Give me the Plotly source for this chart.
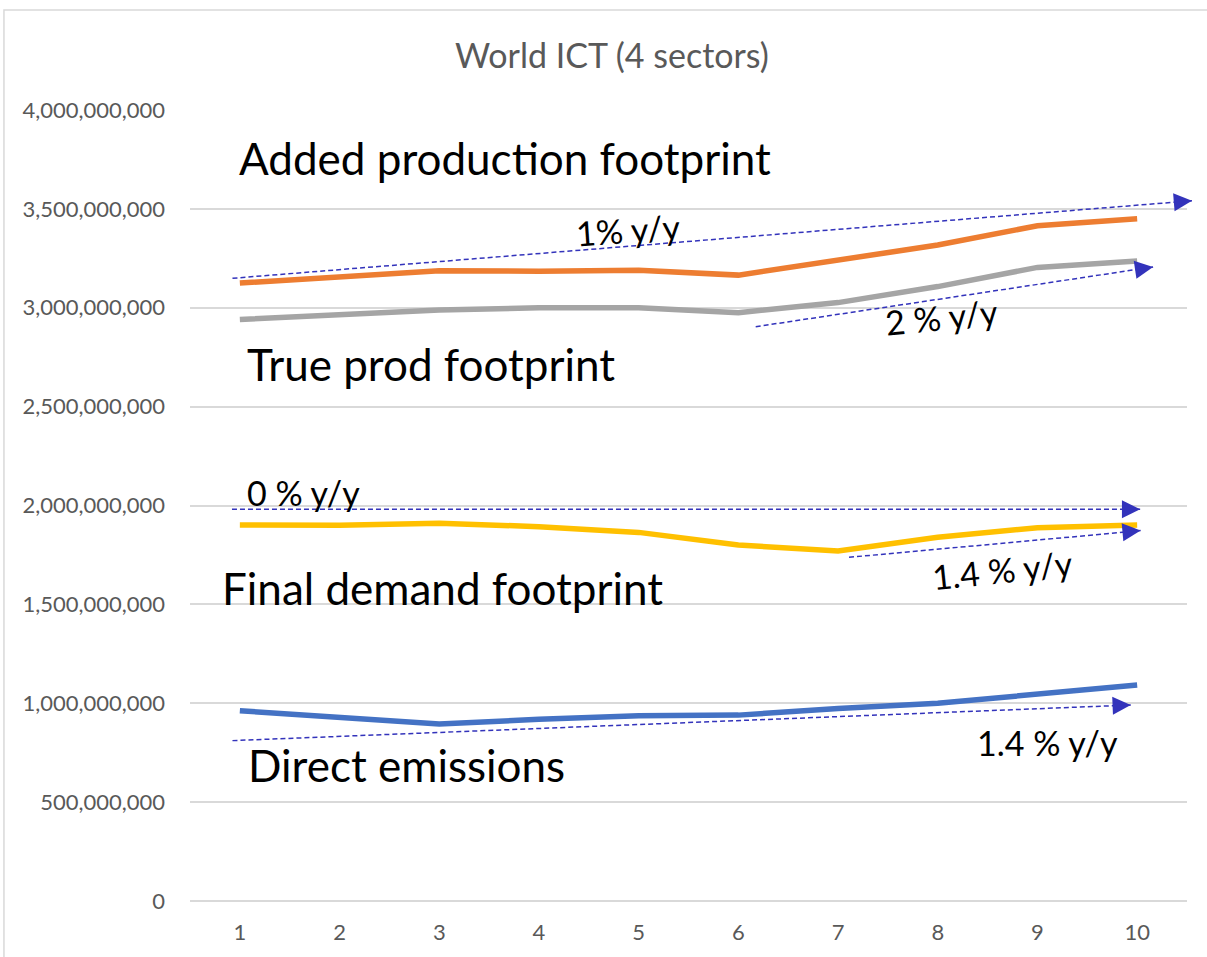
import math
import plotly.graph_objects as go

years = [1, 2, 3, 4, 5, 6, 7, 8, 9, 10]

added_production = [3.125e9, 3.153e9, 3.187e9, 3.185e9, 3.19e9, 3.165e9, 3.24e9, 3.317e9, 3.415e9, 3.45e9]
true_production = [2.941e9, 2.963e9, 2.989e9, 3.0e9, 3.0e9, 2.975e9, 3.026e9, 3.107e9, 3.204e9, 3.236e9]
final_demand = [1.901e9, 1.9e9, 1.91e9, 1.893e9, 1.864e9, 1.8e9, 1.77e9, 1.839e9, 1.888e9, 1.901e9]
direct_emissions = [0.962e9, 0.932e9, 0.895e9, 0.919e9, 0.937e9, 0.94e9, 0.974e9, 1.0e9, 1.047e9, 1.092e9]

y_ticks = [0, 5e8, 1e9, 1.5e9, 2e9, 2.5e9, 3e9, 3.5e9, 4e9]
y_tick_text = ["0", "500,000,000", "1,000,000,000", "1,500,000,000", "2,000,000,000",
               "2,500,000,000", "3,000,000,000", "3,500,000,000", "4,000,000,000"]

# trend arrows: (x_start, x_end), (y_start, y_end)
trend_added = ([0.926, 10.55], [3.149e9, 3.541e9])
trend_true = ([6.174, 10.16], [2.904e9, 3.206e9])
trend_final_flat = ([0.921, 10.03], [1.981e9, 1.981e9])
trend_final = ([7.11, 10.035], [1.738e9, 1.873e9])
trend_direct = ([0.926, 9.936], [0.811e9, 0.991e9])

FONT = "Lato"
GRID = "#D9D9D9"
TICK = "#595959"
ARROW = "#3333BB"

W, H = 1207, 957
M = dict(l=190, r=20, t=110, b=56)
X_RANGE = [0.5, 10.5]
Y_RANGE = [0, 4e9]
plot_w = W - M["l"] - M["r"]
plot_h = H - M["t"] - M["b"]

fig = go.Figure()

series = [
    (added_production, "#ED7D31", "Added production footprint"),
    (true_production, "#A5A5A5", "True prod footprint"),
    (final_demand, "#FFC000", "Final demand footprint"),
    (direct_emissions, "#4472C4", "Direct emissions"),
]
for vals, color, name in series:
    fig.add_trace(go.Scatter(x=years, y=vals, mode="lines", name=name,
                             line=dict(color=color, width=5.5), hoverinfo="x+y"))


def to_paper(x, y):
    return ((x - X_RANGE[0]) / (X_RANGE[1] - X_RANGE[0]),
            (y - Y_RANGE[0]) / (Y_RANGE[1] - Y_RANGE[0]))


for xs, ys in [trend_added, trend_true, trend_final_flat, trend_final, trend_direct]:
    (px0, py0), (px1, py1) = to_paper(xs[0], ys[0]), to_paper(xs[1], ys[1])
    # dashed shaft, drawn in paper space so it can run past the last category
    fig.add_shape(type="line", xref="paper", yref="paper", x0=px0, y0=py0, x1=px1, y1=py1,
                  line=dict(color=ARROW, width=1.5, dash="5px,3px"), layer="above")
    # solid triangular head at the tip
    dx = (px1 - px0) * plot_w
    dy = (py1 - py0) * plot_h
    n = math.hypot(dx, dy)
    L = 12
    fig.add_annotation(x=px1, y=py1, xref="paper", yref="paper", text="",
                       showarrow=True, arrowhead=2, arrowsize=2.8, arrowwidth=1.3,
                       arrowcolor=ARROW, ax=-dx / n * L, ay=dy / n * L, standoff=0)

big = dict(family=FONT, size=44, color="black")
small = dict(family=FONT, size=34, color="black")

labels = [
    ("Added production footprint", 0.97, 3.757e9, big, 0, "left"),
    ("True prod footprint", 1.05, 2.716e9, big, 0, "left"),
    ("Final demand footprint", 0.80, 1.583e9, big, 0, "left"),
    ("Direct emissions", 1.06, 0.688e9, big, 0, "left"),
    ("1% y/y", 4.89, 3.398e9, small, -4, "center"),
    ("2 % y/y", 8.04, 2.955e9, small, -6, "center"),
    ("0 % y/y", 1.05, 2.068e9, small, 0, "left"),
    ("1.4 % y/y", 8.65, 1.674e9, small, -6, "center"),
    ("1.4 % y/y", 9.10, 0.804e9, small, 0, "center"),
]
for text, x, y, font, ang, anchor in labels:
    fig.add_annotation(x=x, y=y, xref="x", yref="y", text=text, showarrow=False,
                       font=font, textangle=ang, xanchor=anchor, yanchor="middle")

# chart frame
fig.add_shape(type="rect", xref="paper", yref="paper", x0=-0.1866, x1=1.03, y0=-0.2, y1=1.1264,
              line=dict(color=GRID, width=1.5), fillcolor="rgba(0,0,0,0)", layer="below")

fig.update_layout(
    width=W, height=H,
    margin=M,
    paper_bgcolor="white", plot_bgcolor="white",
    showlegend=False,
    title=dict(text="World ICT (4 sectors)", x=0.507, xref="container", xanchor="center",
               y=1 - 56 / H, yref="container", yanchor="middle",
               font=dict(family=FONT, size=34, color=TICK)),
    xaxis=dict(range=X_RANGE, tickmode="array", tickvals=years,
               ticktext=[str(v) for v in years], showgrid=False, zeroline=False,
               showline=False, ticks="", tickfont=dict(family=FONT, size=22, color=TICK),
               ticklabelstandoff=16),
    yaxis=dict(range=Y_RANGE, tickmode="array", tickvals=y_ticks, ticktext=y_tick_text,
               showgrid=True, gridcolor=GRID, gridwidth=1.5, zeroline=True,
               zerolinecolor=GRID, zerolinewidth=1.5, showline=False, ticks="",
               tickfont=dict(family=FONT, size=22, color=TICK), ticklabelstandoff=24),
)

fig.write_html("out.html")
